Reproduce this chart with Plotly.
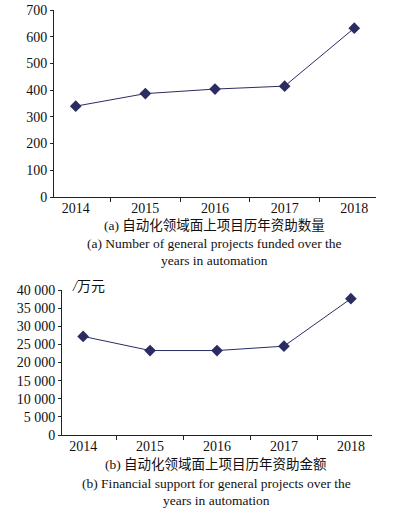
import plotly.graph_objects as go

years = ["2014", "2015", "2016", "2017", "2018"]
num_projects = [340, 387, 404, 415, 632]
funding = [27200, 23300, 23300, 24500, 37600]

line_color = "#2b2d62"
font_main = "Liberation Serif, Times New Roman, Noto Sans CJK SC, serif"
W, H = 398, 514

fig = go.Figure()
fig.add_trace(go.Scatter(x=years, y=num_projects, mode="lines+markers",
                         line=dict(color=line_color, width=1),
                         marker=dict(symbol="diamond", size=9, color=line_color),
                         xaxis="x", yaxis="y", showlegend=False))
fig.add_trace(go.Scatter(x=years, y=funding, mode="lines+markers",
                         line=dict(color=line_color, width=1),
                         marker=dict(symbol="diamond", size=9, color=line_color),
                         xaxis="x2", yaxis="y2", showlegend=False))

axis_common = dict(showline=True, linecolor="#222", linewidth=1, showgrid=False,
                   zeroline=False, ticks="outside", tickcolor="#222",
                   tickfont=dict(family=font_main, size=14, color="#111"))

def px_x(p):
    return p / W

def px_y(p):
    return 1 - p / H

fig.update_layout(
    width=W, height=H, margin=dict(l=0, r=0, t=0, b=0, autoexpand=False),
    paper_bgcolor="white", plot_bgcolor="white",
    separators=". ",
    xaxis=dict(domain=[px_x(54), px_x(376)], anchor="y", type="category",
               tickson="boundaries", ticklen=4, ticklabelstandoff=-2, automargin=False,
               **axis_common),
    yaxis=dict(domain=[px_y(197), px_y(10)], anchor="x", range=[0, 700], dtick=100,
               ticklen=3, automargin=False, **axis_common),
    xaxis2=dict(domain=[px_x(62), px_x(372)], anchor="y2", type="category",
                tickson="boundaries", ticklen=4, ticklabelstandoff=-2, automargin=False,
                **axis_common),
    yaxis2=dict(domain=[px_y(435), px_y(290)], anchor="x2", range=[0, 40000], dtick=5000,
                tickformat=",d", separatethousands=True, ticklen=3, automargin=False,
                **axis_common),
)

cap_font = dict(family=font_main, size=13.5, color="#111")
captions = [
    ("(a) 自动化领域面上项目历年资助数量", 215, 225),
    ("(a) Number of general projects funded over the", 215, 243),
    ("years in automation", 215, 260),
    ("(b) 自动化领域面上项目历年资助金额", 216, 464),
    ("(b) Financial support for general projects over the", 216, 483),
    ("years in automation", 216, 500),
]
for text, cx, cy in captions:
    fig.add_annotation(text=text, x=px_x(cx), y=px_y(cy), xref="paper", yref="paper",
                       showarrow=False, xanchor="center", yanchor="middle", font=cap_font)

fig.add_annotation(text="<i>/</i>万元", x=px_x(70), y=px_y(286), xref="paper", yref="paper",
                   showarrow=False, xanchor="left", yanchor="middle",
                   font=dict(family=font_main, size=14, color="#111"))

fig.write_html("out.html", config={"displayModeBar": False},
               post_script="document.body.style.margin='0';document.body.style.overflow='hidden';")
